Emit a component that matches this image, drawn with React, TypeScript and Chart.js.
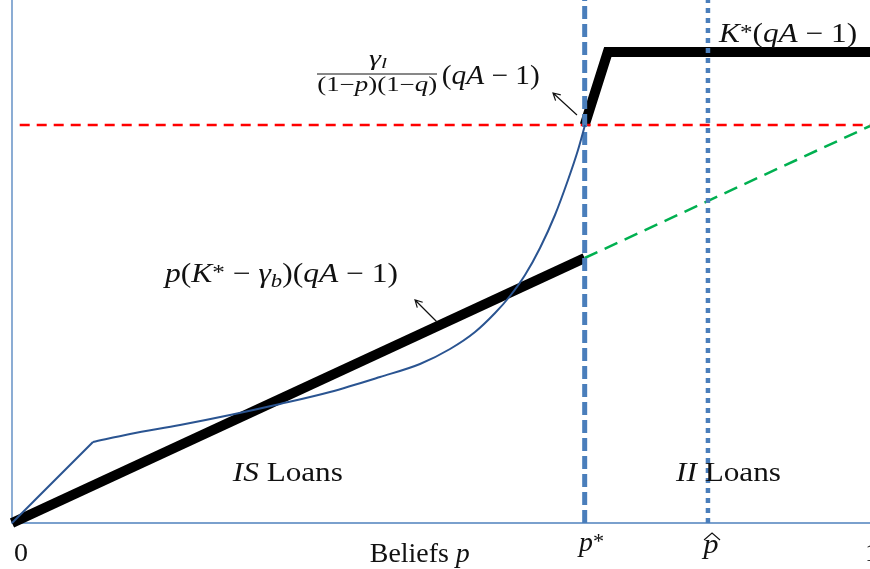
import { useEffect, useRef } from "react";
import { Chart, registerables } from "chart.js";
Chart.register(...registerables);

// ---- data (x = belief p, y = payoff, arbitrary units) ----
const pStar = 0.669;
const pHat = 0.813;
const xMax = 1.0023;
const yMax = 5.23;
const lowerBlackX = [0, pStar];
const lowerBlackY = [0, 2.65];
const upperBlackX = [pStar, 0.696, xMax];
const upperBlackY = [3.98, 4.71, 4.71];
const redLevel = 3.98;
const redStartX = 0.009;
const greenX = [pStar, xMax];
const greenY = [2.65, 3.97];
const kinkX = [0, 0.0946];
const kinkY = [0, 0.81];
const curveX = [0.0946, 0.1379, 0.1963, 0.2547, 0.3131, 0.3715, 0.4299, 0.4766, 0.5117, 0.5409, 0.5643, 0.5818, 0.5993, 0.6168, 0.6343, 0.6495, 0.6612, 0.6694];
const curveY = [0.81, 0.89, 0.98, 1.08, 1.19, 1.31, 1.46, 1.59, 1.74, 1.91, 2.1, 2.27, 2.48, 2.75, 3.08, 3.43, 3.73, 3.98];

const pts = (xs: number[], ys: number[]) => xs.map((x, i) => ({ x, y: ys[i] }));

type Seg = { t: string; it?: boolean; sc?: number; dy?: number };
const FONT = '"Liberation Serif", "DejaVu Serif", serif';

function segFont(size: number, s: Seg) {
  return `${s.it ? "italic " : ""}${size * (s.sc ?? 1)}px ${FONT}`;
}
function measure(ctx: CanvasRenderingContext2D, segs: Seg[], size: number) {
  let w = 0;
  for (const s of segs) {
    ctx.font = segFont(size, s);
    w += ctx.measureText(s.t).width;
  }
  return w;
}
// draws mixed roman/italic text; if fitW is given, the text is stretched horizontally to that width
function drawRich(
  ctx: CanvasRenderingContext2D,
  segs: Seg[],
  x: number,
  y: number,
  size: number,
  align: "left" | "center",
  fitW?: number
) {
  const w = measure(ctx, segs, size);
  const sx = fitW ? fitW / w : 1;
  const W = w * sx;
  const start = align === "center" ? x - W / 2 : x;
  ctx.save();
  ctx.translate(start, y);
  ctx.scale(sx, 1);
  ctx.textAlign = "left";
  ctx.textBaseline = "alphabetic";
  ctx.fillStyle = "#111";
  let cx = 0;
  for (const s of segs) {
    ctx.font = segFont(size, s);
    ctx.fillText(s.t, cx, (s.dy ?? 0) * size);
    cx += ctx.measureText(s.t).width;
  }
  ctx.restore();
  return W;
}

const annot = {
  id: "annot",
  beforeDatasetsDraw(chart: any) {
    const { ctx, chartArea } = chart;
    const xs = chart.scales.x, ys = chart.scales.y;
    ctx.save();
    ctx.strokeStyle = "#4F81BD";
    ctx.lineWidth = 1.3;
    ctx.beginPath();
    const x0 = xs.getPixelForValue(0), y0 = ys.getPixelForValue(0);
    ctx.moveTo(x0, chartArea.top);
    ctx.lineTo(x0, y0);
    ctx.lineTo(chartArea.right, y0);
    ctx.stroke();
    ctx.restore();
  },
  afterDatasetsDraw(chart: any) {
    const { ctx } = chart;
    const X = (v: number) => chart.scales.x.getPixelForValue(v);
    const Y = (v: number) => chart.scales.y.getPixelForValue(v);
    ctx.save();
    const y0 = Y(0);
    // tick labels
    drawRich(ctx, [{ t: "0" }], X(0.0105), y0 + 38, 26, "center", 14);
    drawRich(ctx, [{ t: "p", it: true }, { t: "*", sc: 0.8, dy: -0.12 }], X(0.6624), y0 + 28, 27, "left", 25);
    drawRich(ctx, [{ t: "p", it: true }], X(0.8166), y0 + 30, 27, "center", 15);
    // wide hat over p
    ctx.strokeStyle = "#111";
    ctx.lineWidth = 1.1;
    ctx.beginPath();
    const hx = X(0.8166) + 1;
    ctx.moveTo(hx - 8, y0 + 17);
    ctx.lineTo(hx, y0 + 10);
    ctx.lineTo(hx + 8, y0 + 17);
    ctx.stroke();
    drawRich(ctx, [{ t: "1" }], X(0.9965), y0 + 38, 26, "left", 14);
    drawRich(ctx, [{ t: "Beliefs " }, { t: "p", it: true }], X(0.418), y0 + 39, 27, "left", 100);

    // region labels
    drawRich(ctx, [{ t: "IS", it: true }, { t: " Loans" }], X(0.258), Y(0.42), 27, "left", 110);
    drawRich(ctx, [{ t: "II", it: true }, { t: " Loans" }], X(0.7757), Y(0.42), 27, "left", 105);

    // K*(qA - 1)
    drawRich(
      ctx,
      [{ t: "K", it: true }, { t: "*", sc: 0.8, dy: -0.12 }, { t: "(" }, { t: "qA", it: true }, { t: " − 1)" }],
      X(0.826), Y(4.81), 27, "left", 138
    );

    // fraction label
    drawRich(ctx, [{ t: "γ", it: true }, { t: "l", it: true, sc: 0.72, dy: 0.15 }], X(0.4276), Y(4.585), 20, "center", 18);
    ctx.strokeStyle = "#111";
    ctx.lineWidth = 1;
    ctx.beginPath();
    ctx.moveTo(X(0.3563), Y(4.49));
    ctx.lineTo(X(0.4965), Y(4.49));
    ctx.stroke();
    drawRich(
      ctx,
      [{ t: "(1−" }, { t: "p", it: true }, { t: ")(1−" }, { t: "q", it: true }, { t: ")" }],
      X(0.4266), Y(4.325), 20, "center", 120
    );
    drawRich(ctx, [{ t: "(" }, { t: "qA", it: true }, { t: " − 1)" }], X(0.502), Y(4.39), 27, "left", 98);

    // p(K* - γb)(qA - 1)
    drawRich(
      ctx,
      [
        { t: "p", it: true }, { t: "(" }, { t: "K", it: true }, { t: "*", sc: 0.8, dy: -0.12 },
        { t: " − " }, { t: "γ", it: true }, { t: "b", it: true, sc: 0.72, dy: 0.18 },
        { t: ")(" }, { t: "qA", it: true }, { t: " − 1)" },
      ],
      X(0.1787), Y(2.41), 27, "left", 233
    );

    // arrows
    const arrow = (tx: number, ty: number, hx2: number, hy: number) => {
      const x1 = X(tx), y1 = Y(ty), x2 = X(hx2), y2 = Y(hy);
      const a = Math.atan2(y2 - y1, x2 - x1);
      ctx.strokeStyle = "#111";
      ctx.lineWidth = 1.2;
      ctx.beginPath();
      ctx.moveTo(x1, y1);
      ctx.lineTo(x2, y2);
      const L = 8;
      ctx.moveTo(x2 - L * Math.cos(a - 0.5), y2 - L * Math.sin(a - 0.5));
      ctx.lineTo(x2, y2);
      ctx.lineTo(x2 - L * Math.cos(a + 0.5), y2 - L * Math.sin(a + 0.5));
      ctx.stroke();
    };
    arrow(0.4965, 2.01, 0.4708, 2.23);
    arrow(0.66, 4.08, 0.632, 4.3);
    ctx.restore();
  },
};

export default function App() {
  const ref = useRef<HTMLCanvasElement>(null);
  useEffect(() => {
    if (!ref.current) return;
    const chart = new Chart(ref.current, {
      type: "line",
      data: {
        datasets: [
          { data: pts(curveX, curveY), borderColor: "#2A5491", borderWidth: 2, cubicInterpolationMode: "monotone", order: 0 } as any,
          { data: pts(kinkX, kinkY), borderColor: "#2A5491", borderWidth: 2, tension: 0, order: 0 },
          { data: pts([pStar, pStar], [0, yMax]), borderColor: "#4A7EBB", borderWidth: 5, borderDash: [13, 5], order: 1 },
          { data: pts([pHat, pHat], [0, yMax]), borderColor: "#4A7EBB", borderWidth: 4.5, borderDash: [5, 5], order: 1 },
          { data: pts([redStartX, xMax], [redLevel, redLevel]), borderColor: "#FF0000", borderWidth: 2.5, borderDash: [10, 7], order: 2 },
          { data: pts(greenX, greenY), borderColor: "#00B050", borderWidth: 2.5, borderDash: [14, 8], order: 3 },
          { data: pts(lowerBlackX, lowerBlackY), borderColor: "#000", borderWidth: 10, borderCapStyle: "butt", order: 4 },
          { data: pts(upperBlackX, upperBlackY), borderColor: "#000", borderWidth: 10, borderCapStyle: "butt", borderJoinStyle: "miter", order: 4 },
        ].map((d: any) => ({ ...d, pointRadius: 0, fill: false, clip: 12 })),
      },
      options: {
        responsive: false,
        animation: false,
        layout: { padding: { left: 12, right: 0, top: 0, bottom: 46 } },
        scales: {
          x: { type: "linear", min: 0, max: xMax, display: false },
          y: { type: "linear", min: 0, max: yMax, display: false },
        },
        plugins: { legend: { display: false }, tooltip: { enabled: false } },
        events: [],
      },
      plugins: [annot],
    });
    return () => chart.destroy();
  }, []);
  return (
    <div style={{ position: "fixed", left: 0, top: 0, width: 870, height: 569, background: "#fff" }}>
      <canvas ref={ref} width={870} height={569} />
    </div>
  );
}
